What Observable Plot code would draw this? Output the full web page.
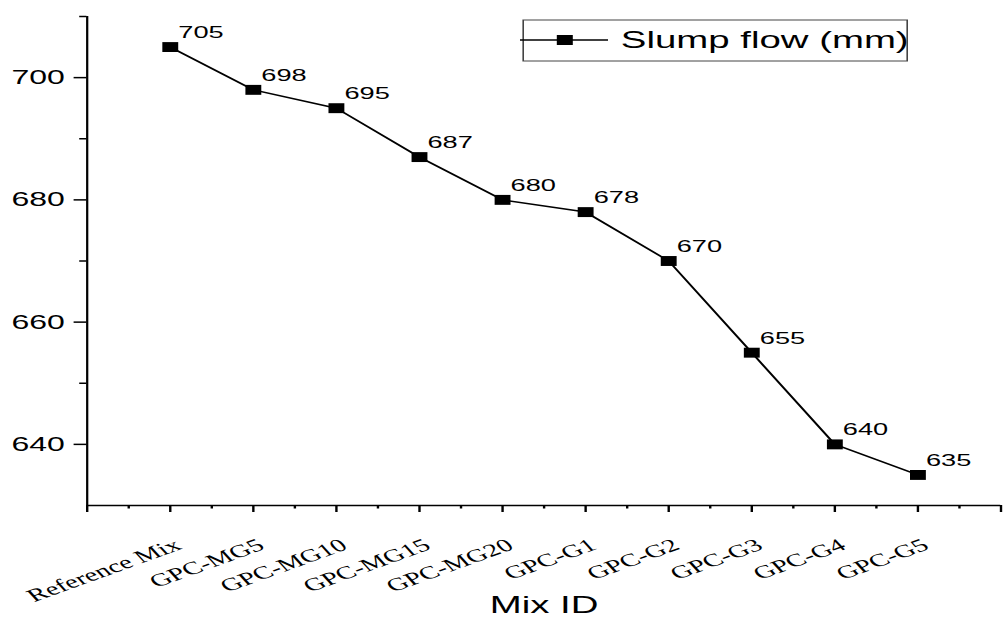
<!DOCTYPE html>
<html><head><meta charset="utf-8">
<script src="https://cdn.jsdelivr.net/npm/d3@7"></script>
<script src="https://cdn.jsdelivr.net/npm/@observablehq/plot@0.6"></script>
<style>
html,body{margin:0;padding:0;background:#fff;overflow:hidden}
#chart svg{display:block}
</style>
</head><body><div id="chart"></div>
<script>
// ---- data ----
const mixes = ["Reference Mix","GPC-MG5","GPC-MG10","GPC-MG15","GPC-MG20","GPC-G1","GPC-G2","GPC-G3","GPC-G4","GPC-G5"];
const slumpFlow = [705, 698, 695, 687, 680, 678, 670, 655, 640, 635];
const xMajorTicks = [0,1,2,3,4,5,6,7,8,9,10,11];
const xMinorTicks = [0.5,1.5,2.5,3.5,4.5,5.5,6.5,7.5,8.5,9.5,10.5];
const xLabelTicks = [1,2,3,4,5,6,7,8,9,10];
const yMajorTicks = [640, 660, 680, 700];
const yMinorTicks = [650, 670, 690, 710];
const seriesName = "Slump flow (mm)";
const xTitle = "Mix ID";

// ---- layout ----
const W = 1005, H = 618;
const S = 1.6;              // horizontal stretch of the reference
const w = W / S;
const sans = "'Liberation Sans', Arial, sans-serif";
const serif = "'Liberation Serif', 'Times New Roman', serif";

const data = mixes.map((m, i) => ({mix: m, pos: i + 1, v: slumpFlow[i]}));

const plot = Plot.plot({
  width: w, height: H,
  marginLeft: 54, marginRight: 3, marginTop: 16, marginBottom: 113,
  style: {fontFamily: sans, background: "white", color: "black", overflow: "visible"},
  x: {type: "linear", domain: [0, 11], axis: null, label: null},
  y: {domain: [630, 710], axis: null, label: null},
  marks: [
    Plot.axisX({ticks: xMinorTicks, tickSize: 3.5, tickFormat: () => "", strokeWidth: 1.5, label: null}),
    Plot.axisX({ticks: xMajorTicks, tickSize: 7, tickFormat: () => "", strokeWidth: 1.5, label: null}),
    Plot.axisX({ticks: xLabelTicks, tickSize: 0, tickPadding: 38, dx: 5,
      tickFormat: i => mixes[i - 1],
      tickRotate: -30, fontSize: 18, fontFamily: serif, label: null}),
    Plot.axisY({ticks: yMinorTicks, tickSize: 4.5, tickFormat: () => "", strokeWidth: 1.5, label: null}),
    Plot.axisY({ticks: yMajorTicks, tickSize: 8, tickPadding: 6, strokeWidth: 1.5, fontSize: 20, label: null}),
    Plot.ruleY([630], {stroke: "black", strokeWidth: 1.7}),
    Plot.ruleX([0], {stroke: "black", strokeWidth: 1.4}),
    Plot.line(data, {x: "pos", y: "v", stroke: "black", strokeWidth: 1.5}),
    Plot.dot(data, {x: "pos", y: "v", symbol: "square", r: 5.6, fill: "black", stroke: "none"}),
    Plot.text(data, {x: "pos", y: "v", text: d => String(d.v), textAnchor: "start", lineAnchor: "bottom",
      dx: 5, dy: -9, fontSize: 17, fill: "black"}),
    Plot.text([xTitle], {frameAnchor: "bottom", lineAnchor: "bottom", dy: 107, fontSize: 24, fill: "black"})
  ]
});

// legend (inside the SVG so it is stretched with it)
const svg = d3.select(plot);
const lg = svg.append("g").attr("class", "legend");
lg.append("rect").attr("x", 327).attr("y", 20).attr("width", 240).attr("height", 41)
  .attr("fill", "white").attr("stroke", "#444").attr("stroke-width", 1);
lg.append("line").attr("x1", 325).attr("x2", 380).attr("y1", 40).attr("y2", 40)
  .attr("stroke", "black").attr("stroke-width", 1.5);
lg.append("rect").attr("x", 348).attr("y", 35).attr("width", 10).attr("height", 10).attr("fill", "black");
lg.append("text").attr("x", 388).attr("y", 40).attr("dy", "0.35em").attr("font-size", 24)
  .attr("text-anchor", "start")
  .attr("font-family", sans).attr("fill", "black").text(seriesName);

plot.setAttribute("width", W);
plot.setAttribute("height", H);
plot.setAttribute("preserveAspectRatio", "none");
plot.style.width = W + "px";
plot.style.height = H + "px";
plot.style.maxWidth = "none";
document.getElementById("chart").appendChild(plot);
</script>
</body></html>
